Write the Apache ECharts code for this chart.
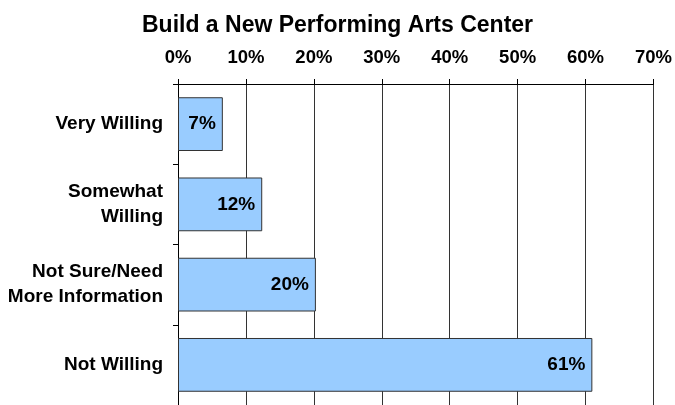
<!DOCTYPE html>
<html>
<head>
<meta charset="utf-8">
<script src="https://cdn.jsdelivr.net/npm/echarts@6/dist/echarts.min.js"></script>
<style>
  html, body { margin: 0; padding: 0; background: #fff; }
  #chart { width: 675px; height: 405px; }
</style>
</head>
<body>
<div id="chart"></div>
<script>
// categories, top to bottom
const categories = ['Very Willing', 'Somewhat\nWilling', 'Not Sure/Need\nMore Information', 'Not Willing'];
// share of respondents (%)
const values = [6.6, 12.4, 20.3, 61];
const tickMax = 70;

const chart = echarts.init(document.getElementById('chart'));

const option = {
    animation: false,
    title: {
        text: 'Build a New Performing Arts Center',
        left: 'center',
        top: 9,
        textStyle: {
            fontFamily: 'Liberation Sans, Arial, sans-serif',
            fontWeight: 'bold',
            fontSize: 23,
            color: '#000'
        }
    },
    grid: {
        left: 178,
        right: 20,
        top: 84,
        height: 323
    },
    xAxis: {
        type: 'value',
        position: 'top',
        min: 0,
        max: tickMax,
        interval: 10,
        axisLine: { show: true, lineStyle: { color: '#000', width: 1 } },
        axisTick: { show: true, inside: false, length: 5, lineStyle: { color: '#000' } },
        axisLabel: {
            formatter: '{value}%',
            color: '#000',
            fontFamily: 'Liberation Sans, Arial, sans-serif',
            fontWeight: 'bold',
            fontSize: 18.5,
            margin: 17
        },
        splitLine: { show: true, lineStyle: { color: '#333', width: 1 } }
    },
    yAxis: {
        type: 'category',
        inverse: true,
        data: categories,
        axisLine: { show: true, lineStyle: { color: '#000', width: 1 } },
        axisTick: { show: true, length: 5, lineStyle: { color: '#000' } },
        axisLabel: {
            color: '#000',
            fontFamily: 'Liberation Sans, Arial, sans-serif',
            fontWeight: 'bold',
            fontSize: 19,
            lineHeight: 25,
            margin: 15,
            align: 'right'
        }
    },
    series: [
        {
            type: 'bar',
            data: values,
            barCategoryGap: '33%',
            itemStyle: {
                color: '#99ccff',
                borderColor: '#333',
                borderWidth: 1
            },
            label: {
                show: true,
                position: 'insideRight',
                formatter: p => Math.round(p.value) + '%',
                color: '#000',
                fontFamily: 'Liberation Sans, Arial, sans-serif',
                fontWeight: 'bold',
                fontSize: 19,
                distance: 7
            }
        }
    ]
};

chart.setOption(option);
</script>
</body>
</html>
